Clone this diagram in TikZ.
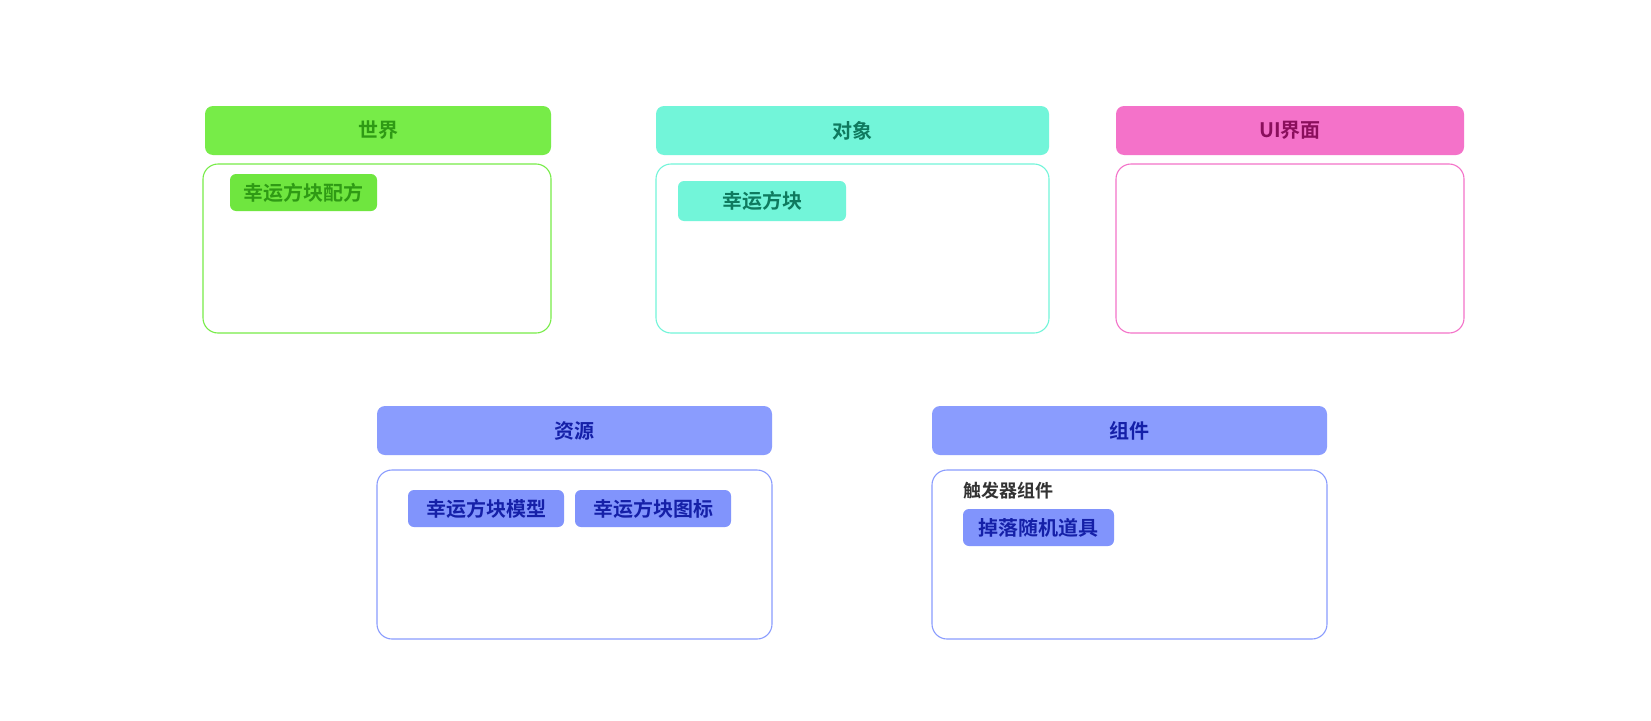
\documentclass[tikz,border=0pt]{standalone}
\usepackage{fontspec}
\newfontfamily\cjkb{Noto Sans CJK SC Bold}
\definecolor{gfill}{HTML}{77EC48}
\definecolor{gtag}{HTML}{6FE63F}
\definecolor{gtext}{HTML}{2F9A15}
\definecolor{tfill}{HTML}{72F5D9}
\definecolor{ttext}{HTML}{0F7A5F}
\definecolor{pfill}{HTML}{F472C9}
\definecolor{ptext}{HTML}{8A0F5C}
\definecolor{bfill}{HTML}{8A9CFE}
\definecolor{btag}{HTML}{8194FC}
\definecolor{btext}{HTML}{1520A8}
\definecolor{graytext}{HTML}{333333}
\tikzset{
  hdr/.style={rectangle, rounded corners=8pt, inner sep=0pt, font=\cjkb\fontsize{20}{23}\selectfont},
  bodybox/.style={rectangle, rounded corners=15pt, inner sep=0pt, line width=1.1pt, fill=white},
  tag/.style={rectangle, rounded corners=6pt, inner sep=0pt, font=\cjkb\fontsize{20}{23}\selectfont},
  plain/.style={inner sep=0pt, font=\cjkb\fontsize{18}{21}\selectfont, text=graytext}
}
\begin{document}
\begin{tikzpicture}[x=1pt,y=-1pt]
\useasboundingbox[fill=white] (0,0) rectangle (1651,720);
% World
\node[hdr, fill=gfill, text=gtext, minimum width=346pt, minimum height=49pt] (h1) at (378,130.5) {世界};
\node[bodybox, draw=gfill, minimum width=348pt, minimum height=169pt] (b1) at (377,248.5) {};
\node[tag, fill=gtag, text=gtext, minimum width=147pt, minimum height=37pt] (t1) at (303.5,192.5) {幸运方块配方};
% Object
\node[hdr, fill=tfill, text=ttext, minimum width=393pt, minimum height=49pt] (h2) at (852.5,130.5) {对象};
\node[bodybox, draw=tfill, minimum width=393pt, minimum height=169pt] (b2) at (852.5,248.5) {};
\node[tag, fill=tfill, text=ttext, minimum width=168pt, minimum height=40pt] (t2) at (762,201) {幸运方块};
% UI
\node[hdr, fill=pfill, text=ptext, minimum width=348pt, minimum height=49pt] (h3) at (1290,130.5) {UI界面};
\node[bodybox, draw=pfill, minimum width=348pt, minimum height=169pt] (b3) at (1290,248.5) {};
% Resources
\node[hdr, fill=bfill, text=btext, minimum width=395pt, minimum height=49pt] (h4) at (574.5,430.5) {资源};
\node[bodybox, draw=bfill, minimum width=395pt, minimum height=169pt] (b4) at (574.5,554.5) {};
\node[tag, fill=btag, text=btext, minimum width=156pt, minimum height=37pt] (t4a) at (486,508.5) {幸运方块模型};
\node[tag, fill=btag, text=btext, minimum width=156pt, minimum height=37pt] (t4b) at (653,508.5) {幸运方块图标};
% Components
\node[hdr, fill=bfill, text=btext, minimum width=395pt, minimum height=49pt] (h5) at (1129.5,430.5) {组件};
\node[bodybox, draw=bfill, minimum width=395pt, minimum height=169pt] (b5) at (1129.5,554.5) {};
\node[plain, anchor=west] (l5) at (963,491) {触发器组件};
\node[tag, fill=btag, text=btext, minimum width=151pt, minimum height=37pt] (t5) at (1038.5,527.5) {掉落随机道具};
\end{tikzpicture}
\end{document}
